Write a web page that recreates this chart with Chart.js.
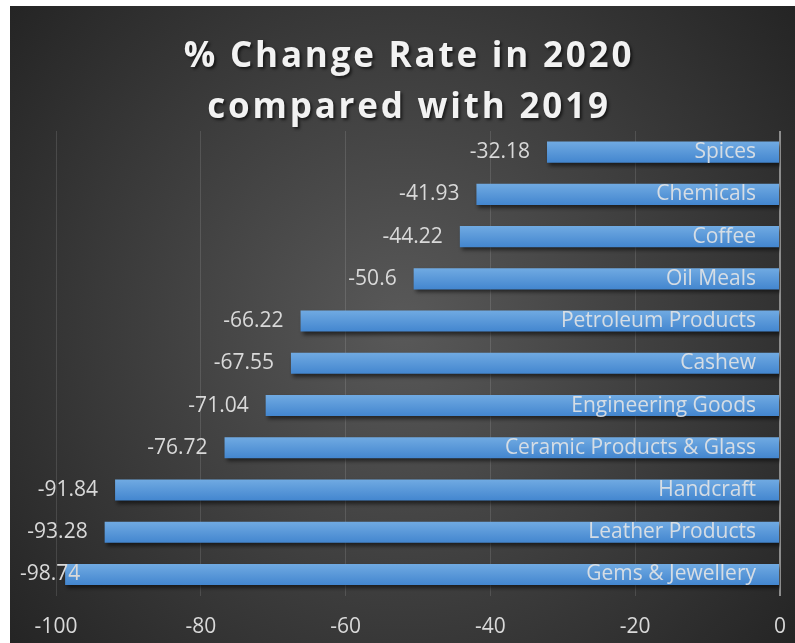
<!DOCTYPE html>
<html>
<head>
<meta charset="utf-8">
<script src="https://cdn.jsdelivr.net/npm/chart.js@4.4.1/dist/chart.umd.min.js"></script>
<style>
  html, body { margin: 0; padding: 0; background: #ffffff; overflow: hidden; }
  #chart { position: absolute; left: 10px; top: 6px; display: block; }
</style>
</head>
<body>
<canvas id="chart" width="785" height="637"></canvas>
<script>
// data
const categories = [
  "Spices", "Chemicals", "Coffee", "Oil Meals", "Petroleum Products", "Cashew",
  "Engineering Goods", "Ceramic Products & Glass", "Handcraft", "Leather Products", "Gems & Jewellery"
]
const changeRates = [-32.18, -41.93, -44.22, -50.6, -66.22, -67.55, -71.04, -76.72, -91.84, -93.28, -98.74]
const titleLines = ["% Change Rate in 2020", "compared with 2019"]
const axisMin = -100
const axisMax = 0
const axisStep = 20

const LABEL_FONT = "Open Sans"
const TEXT_COLOR = "#d9d9d9"

// dark radial background
const backgroundPlugin = {
  id: "bg",
  beforeDraw(chart) {
    const { ctx, width, height } = chart
    const g = ctx.createRadialGradient(width / 2, height / 2, 0, width / 2, height / 2, 520)
    g.addColorStop(0, "#595959")
    g.addColorStop(1, "#232323")
    ctx.save()
    ctx.fillStyle = g
    ctx.fillRect(0, 0, width, height)
    ctx.restore()
  },
}

// title with letter spacing and soft shadow
const titlePlugin = {
  id: "titleText",
  afterDraw(chart) {
    const ctx = chart.ctx
    ctx.save()
    ctx.font = "bold 35px 'Open Sans'"
    ctx.letterSpacing = "2.8px"
    ctx.fillStyle = "#f2f2f2"
    ctx.textAlign = "center"
    ctx.textBaseline = "alphabetic"
    ctx.shadowColor = "rgba(0,0,0,0.6)"
    ctx.shadowOffsetX = 2
    ctx.shadowOffsetY = 2
    ctx.shadowBlur = 3
    ctx.fillText(titleLines[0], 399, 61)
    ctx.fillText(titleLines[1], 399, 112)
    ctx.restore()
  },
}

// shadow under the bars
const barShadow = {
  id: "barShadow",
  beforeDatasetsDraw(chart) {
    const ctx = chart.ctx
    ctx.save()
    ctx.shadowColor = "rgba(0,0,0,0.55)"
    ctx.shadowOffsetX = 2
    ctx.shadowOffsetY = 3
    ctx.shadowBlur = 4
  },
  afterDatasetsDraw(chart) {
    chart.ctx.restore()
  },
}

// category name inside the bar, value to the left of it
const barLabels = {
  id: "barLabels",
  afterDatasetsDraw(chart) {
    const ctx = chart.ctx
    const meta = chart.getDatasetMeta(0)
    ctx.save()
    ctx.font = `21px '${LABEL_FONT}'`
    ctx.textBaseline = "middle"
    meta.data.forEach((bar, i) => {
      ctx.fillStyle = "rgba(230,230,230,0.88)"
      ctx.textAlign = "right"
      ctx.fillText(categories[i], bar.base - 23, bar.y)

      const txt = String(changeRates[i])
      const w = ctx.measureText(txt).width
      ctx.fillStyle = TEXT_COLOR
      let x = bar.x - 17
      if (x - w < 10) {
        ctx.textAlign = "left"
        x = 10
      }
      ctx.fillText(txt, x, bar.y)
    })
    ctx.restore()
  },
}

function barFill(c) {
  const chart = c.chart
  const y = chart.scales.y
  if (c.type !== "data" || !y || !chart.chartArea) return "#5b9bd5"
  const py = y.getPixelForValue(c.dataIndex)
  const g = chart.ctx.createLinearGradient(0, py - 10.5, 0, py + 10.5)
  g.addColorStop(0, "#70aae2")
  g.addColorStop(1, "#4386cf")
  return g
}

new Chart(document.getElementById("chart"), {
  type: "bar",
  data: {
    labels: categories,
    datasets: [{
      data: changeRates,
      backgroundColor: barFill,
      borderWidth: 0,
      barPercentage: 0.5,
      categoryPercentage: 1,
    }],
  },
  options: {
    indexAxis: "y",
    responsive: false,
    animation: false,
    layout: { padding: { left: 46, right: 15, top: 125, bottom: 0 } },
    plugins: {
      legend: { display: false },
      title: { display: false },
      tooltip: { enabled: false },
    },
    scales: {
      x: {
        min: axisMin,
        max: axisMax,
        border: { display: false },
        grid: {
          drawTicks: false,
          color: (c) => (c.tick && c.tick.value === 0 ? "#8c8c8c" : "rgba(255,255,255,0.12)"),
          lineWidth: (c) => (c.tick && c.tick.value === 0 ? 2 : 1),
        },
        ticks: {
          stepSize: axisStep,
          padding: 19,
          color: TEXT_COLOR,
          font: { family: LABEL_FONT, size: 21 },
        },
        afterFit(s) {
          s.height = 47.4
          // layout padding already leaves room for the end labels
          s.paddingLeft = 0
          s.paddingRight = 0
        },
      },
      y: { display: false },
    },
  },
  plugins: [backgroundPlugin, barShadow, barLabels, titlePlugin],
})
</script>
</body>
</html>
